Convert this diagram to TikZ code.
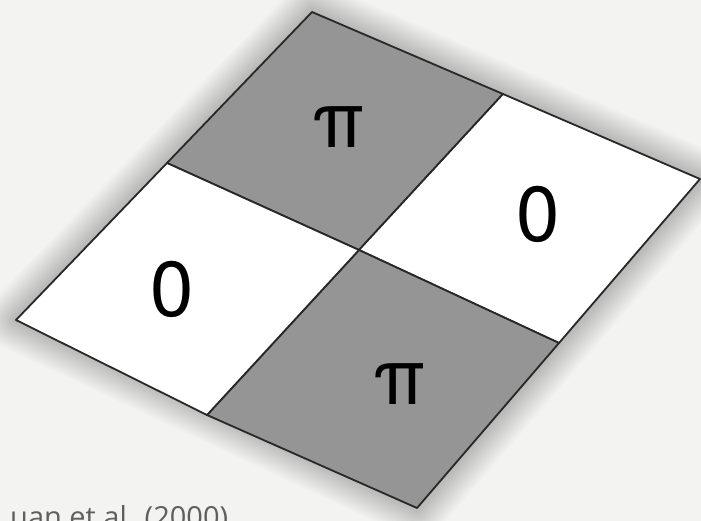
\documentclass[tikz,border=0pt]{standalone}
\usepackage{fontspec}
\setmainfont{TeX Gyre Heros}
\newfontfamily\citefont{Open Sans}
\definecolor{paper}{RGB}{243,243,241}
\definecolor{cellgray}{RGB}{149,149,149}
\definecolor{edgegray}{RGB}{40,40,40}
\definecolor{citegray}{RGB}{95,95,95}
\begin{document}
\begin{tikzpicture}[x=1pt, y=-1pt, line join=round]
  \tikzstyle{cell}=[draw=edgegray, line width=1.8pt]
  \tikzstyle{phase}=[inner sep=0pt, font=\fontsize{78}{80}\selectfont]
  % canvas
  \fill[paper] (0,0) rectangle (701,521);
  \useasboundingbox (0,0) rectangle (701,521);
  % corners, edge midpoints and centre
  \coordinate (top) at (312,12);
  \coordinate (right) at (700,179);
  \coordinate (bottom) at (417,508);
  \coordinate (left) at (16,320);
  \coordinate (tlmid) at (167,163);
  \coordinate (trmid) at (503,94);
  \coordinate (brmid) at (559,343);
  \coordinate (blmid) at (207,415);
  \coordinate (ctr) at (359,250);
  % soft shadow round the plate
  \foreach \w in {4,8,...,60}
    \draw[black, opacity=0.016, line width=\w pt] (top) -- (right) -- (bottom) -- (left) -- cycle;
  % four cells
  \filldraw[cell, fill=cellgray] (top) -- (trmid) -- (ctr) -- (tlmid) -- cycle;
  \filldraw[cell, fill=white] (trmid) -- (right) -- (brmid) -- (ctr) -- cycle;
  \filldraw[cell, fill=cellgray] (ctr) -- (brmid) -- (bottom) -- (blmid) -- cycle;
  \filldraw[cell, fill=white] (tlmid) -- (ctr) -- (blmid) -- (left) -- cycle;
  % phases
  \node[phase] (pitop) at (339,127) {π};
  \node[phase] (zeroright) at (538,214) {0};
  \node[phase] (zeroleft) at (172,289) {0};
  \node[phase] (pibottom) at (400,384) {π};
  % citation, cut by the frame
  \begin{scope}
    \clip (0,0) rectangle (701,521);
    \node[anchor=base west, inner sep=0pt, text=citegray, font=\citefont\fontsize{29}{32}\selectfont] (cite) at (10,527) {uan et al. (2000)};
  \end{scope}
\end{tikzpicture}
\end{document}
